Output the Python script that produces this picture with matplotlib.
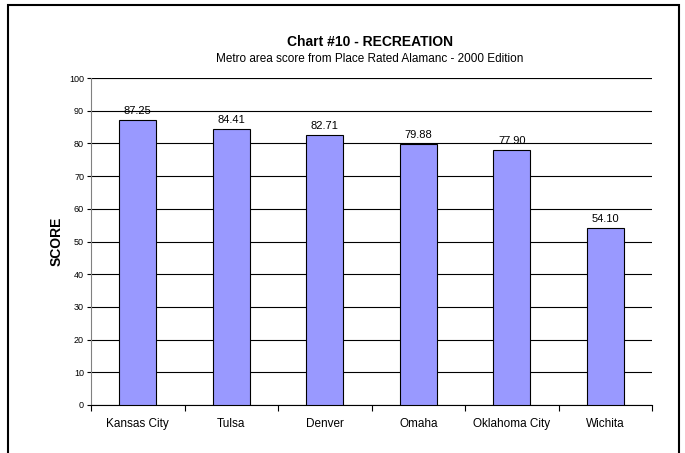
import matplotlib.pyplot as plt
import matplotlib.patches as mpatches
import numpy as np

plt.rcParams.update({
    "font.family": "Liberation Sans",
    "font.size": 8,
    "figure.facecolor": "white",
    "axes.facecolor": "white",
})

cities = ["Kansas City", "Tulsa", "Denver", "Omaha", "Oklahoma City", "Wichita"]
scores = [87.25, 84.41, 82.71, 79.88, 77.90, 54.10]
y_ticks = list(range(0, 101, 10))

fig = plt.figure(figsize=(6.85, 4.53), dpi=100)

# outer chart frame (bottom edge runs off the image)
frame = mpatches.Rectangle((8 / 685, -0.05), 671 / 685, 1.05 - 5 / 453,
                           transform=fig.transFigure, fill=False,
                           edgecolor="black", linewidth=1.5)
fig.patches.append(frame)

ax = fig.add_axes([91 / 685, 1 - 405 / 453, 561 / 685, 327 / 453])

x = np.arange(len(cities))
bars = ax.bar(x, scores, width=0.4, color="#9999FF", edgecolor="black",
              linewidth=0.8, zorder=3)

for xi, v in zip(x, scores):
    ax.text(xi, v + 1.2, f"{v:.2f}", ha="center", va="bottom", fontsize=8,
            zorder=4)

ax.set_xlim(-0.5, len(cities) - 0.5)
ax.set_ylim(0, 100)
ax.set_yticks(y_ticks)
ax.tick_params(axis="y", labelsize=6.5, length=3, width=0.8, pad=2)

ax.set_xticks(x)
ax.set_xticklabels(cities, fontsize=8.5, va="baseline")
ax.tick_params(axis="x", length=0, pad=16)
ax.set_xticks(np.arange(-0.5, len(cities)), minor=True)
ax.tick_params(axis="x", which="minor", length=4, width=0.8)

ax.grid(True, axis="y", color="black", linewidth=0.8, zorder=0)
for s in ["top", "right"]:
    ax.spines[s].set_visible(False)
ax.spines["left"].set_color("#808080")
ax.spines["bottom"].set_color("black")
ax.axhline(100, color="#A0A0A0", linewidth=0.8, zorder=1)

ax.set_ylabel("SCORE", fontsize=10, fontweight="bold", labelpad=4)

fig.text(370 / 685, 1 - 42 / 453, "Chart #10 - RECREATION", ha="center",
         va="center", fontsize=10, fontweight="bold")
fig.text(370 / 685, 1 - 59 / 453,
         "Metro area score from Place Rated Alamanc - 2000 Edition",
         ha="center", va="center", fontsize=8.5)

fig.savefig("out.png", dpi=100)
